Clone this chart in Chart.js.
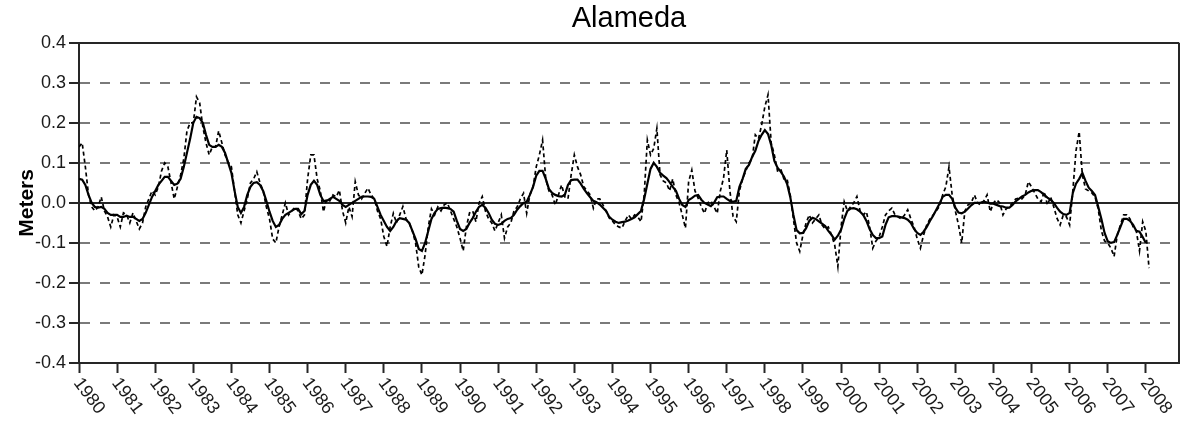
<!DOCTYPE html>
<html>
<head>
<meta charset="utf-8">
<title>Alameda</title>
<script src="https://cdn.jsdelivr.net/npm/chart.js@4.4.0/dist/chart.umd.min.js"></script>
<style>
    html, body { margin: 0; padding: 0; background: #ffffff; }
    .chart-box { position: relative; width: 1181px; height: 421px; }
</style>
</head>
<body>
<div class="chart-box">
    <canvas id="seaLevelChart"></canvas>
</div>
<script>
// ===== ALAMEDA SEA LEVEL ANOMALY =====

const startYear = 1980;

// year ticks along the bottom axis
const yearTicks = [1980, 1981, 1982, 1983, 1984, 1985, 1986, 1987, 1988, 1989,
    1990, 1991, 1992, 1993, 1994, 1995, 1996, 1997, 1998, 1999,
    2000, 2001, 2002, 2003, 2004, 2005, 2006, 2007, 2008];

// meter ticks on the left axis
const meterTicks = [-0.4, -0.3, -0.2, -0.1, 0.0, 0.1, 0.2, 0.3, 0.4];

// monthly anomaly (dashed), Jan 1980 onwards, one row per year
const monthlyMeters = [
    0.14, 0.15, 0.09, 0.02, -0.01, -0.02, -0.01, 0.015, -0.02, -0.035, -0.06, -0.03,
    -0.035, -0.06, -0.025, -0.03, -0.05, -0.025, -0.045, -0.065, -0.05, -0.01, 0.01, 0.03,
    0.02, 0.04, 0.08, 0.10, 0.09, 0.05, 0.01, 0.04, 0.07, 0.11, 0.18, 0.20,
    0.20, 0.265, 0.25, 0.19, 0.15, 0.12, 0.14, 0.14, 0.18, 0.15, 0.12, 0.10,
    0.09, 0.03, -0.03, -0.05, -0.02, 0.01, 0.05, 0.06, 0.078, 0.05, 0.03, -0.01,
    -0.04, -0.09, -0.10, -0.06, -0.03, 0.0, -0.03, -0.02, -0.01, -0.02, -0.04, -0.03,
    0.06, 0.12, 0.12, 0.06, 0.03, -0.022, 0.01, 0.005, 0.02, 0.015, 0.032, -0.02,
    -0.05, -0.01, -0.034, 0.053, 0.02, 0.01, 0.024, 0.037, 0.02, 0.01, -0.02, -0.04,
    -0.084, -0.109, -0.06, -0.026, -0.05, -0.03, -0.009, -0.04, -0.05, -0.07, -0.10, -0.16,
    -0.18, -0.13, -0.06, -0.015, -0.03, -0.01, -0.02, -0.005, 0.0, -0.02, -0.04, -0.06,
    -0.088, -0.12, -0.06, -0.025, -0.02, -0.047, 0.0, 0.016, -0.02, -0.04, -0.05, -0.07,
    -0.05, -0.03, -0.088, -0.06, -0.05, -0.02, -0.01, 0.01, 0.024, -0.026, 0.02, 0.04,
    0.09, 0.12, 0.157, 0.06, 0.03, 0.02, -0.005, 0.02, 0.045, 0.015, 0.01, 0.07,
    0.12, 0.09, 0.07, 0.04, 0.03, 0.02, -0.013, 0.01, 0.01, -0.005, -0.02, -0.038,
    -0.045, -0.055, -0.06, -0.063, -0.045, -0.03, -0.04, -0.03, -0.035, -0.047, 0.02, 0.157,
    0.12, 0.136, 0.186, 0.07, 0.055, 0.05, 0.03, 0.06, 0.02, 0.0, -0.03, -0.063,
    0.053, 0.082, 0.03, 0.012, -0.01, -0.026, 0.0, 0.005, -0.01, -0.026, 0.03, 0.062,
    0.132, 0.03, -0.034, -0.047, 0.03, 0.06, 0.08, 0.10, 0.11, 0.17, 0.16, 0.195,
    0.24, 0.27, 0.15, 0.12, 0.08, 0.085, 0.06, 0.06, 0.02, -0.04, -0.10, -0.121,
    -0.08, -0.05, -0.03, -0.05, -0.04, -0.03, -0.055, -0.065, -0.06, -0.08, -0.105, -0.159,
    -0.06, 0.003, -0.02, -0.01, 0.0, 0.016, -0.02, -0.03, -0.022, -0.06, -0.113, -0.095,
    -0.085, -0.06, -0.03, -0.02, -0.013, -0.03, -0.035, -0.04, -0.03, -0.017, -0.04, -0.06,
    -0.09, -0.113, -0.08, -0.055, -0.04, -0.03, -0.02, -0.009, 0.02, 0.04, 0.09, 0.02,
    -0.02, -0.055, -0.10, -0.02, -0.005, 0.0, 0.02, 0.0, -0.005, 0.005, 0.02, -0.022,
    0.0, 0.008, 0.0, -0.03, -0.015, -0.01, 0.0, 0.01, 0.012, 0.01, 0.02, 0.053,
    0.04, 0.025, 0.01, 0.003, 0.028, -0.005, 0.015, -0.01, -0.038, -0.055, -0.03, -0.035,
    -0.055, 0.03, 0.13, 0.178, 0.07, 0.035, 0.03, 0.025, 0.015, -0.015, -0.07, -0.095,
    -0.10, -0.113, -0.134, -0.08, -0.055, -0.03, -0.03, -0.04, -0.06, -0.07, -0.12, -0.047,
    -0.071, -0.163
];

// smoothed anomaly (solid), Jan 1980 onwards
const smoothedMeters = [
    0.06, 0.058, 0.045, 0.02, 0.0, -0.01, -0.012, -0.01, -0.015, -0.025, -0.03, -0.03,
    -0.03, -0.035, -0.035, -0.032, -0.035, -0.035, -0.04, -0.045, -0.04, -0.025, -0.005, 0.015,
    0.03, 0.045, 0.055, 0.065, 0.065, 0.055, 0.045, 0.048, 0.06, 0.09, 0.125, 0.16,
    0.2, 0.215, 0.212, 0.2, 0.17, 0.145, 0.14, 0.14, 0.145, 0.14, 0.125, 0.1,
    0.075, 0.03, -0.01, -0.025, -0.01, 0.02, 0.04, 0.05, 0.052, 0.045, 0.03, 0.005,
    -0.022, -0.045, -0.06, -0.055, -0.04, -0.03, -0.025, -0.02, -0.015, -0.015, -0.028, -0.02,
    0.02, 0.045, 0.055, 0.045, 0.02, 0.005, 0.005, 0.01, 0.015, 0.01, 0.005, -0.005,
    -0.01, -0.005, 0.0, 0.005, 0.01, 0.015, 0.016, 0.016, 0.015, 0.01, -0.01, -0.03,
    -0.045, -0.06, -0.07, -0.06, -0.045, -0.038, -0.04, -0.042, -0.05, -0.07, -0.09, -0.115,
    -0.12, -0.1, -0.07, -0.04, -0.025, -0.015, -0.013, -0.012, -0.013, -0.015, -0.022, -0.045,
    -0.065, -0.07, -0.065, -0.05, -0.038, -0.022, -0.01, -0.005, -0.012, -0.025, -0.042, -0.052,
    -0.055, -0.052, -0.045, -0.04, -0.038, -0.03, -0.017, -0.008, 0.0, 0.003, 0.02, 0.04,
    0.068, 0.08, 0.08, 0.06, 0.035, 0.025, 0.02, 0.017, 0.016, 0.02, 0.045, 0.057,
    0.058, 0.058, 0.048, 0.035, 0.024, 0.014, 0.005, 0.002, -0.004, -0.012, -0.02, -0.035,
    -0.042, -0.047, -0.05, -0.048, -0.047, -0.044, -0.04, -0.036, -0.028, -0.02, 0.01, 0.048,
    0.085, 0.1, 0.09, 0.075, 0.068, 0.062, 0.052, 0.04, 0.03, 0.01, -0.005, -0.01,
    0.007, 0.012, 0.018, 0.02, 0.008, 0.0, -0.004, -0.008, 0.0, 0.014, 0.016, 0.016,
    0.01, 0.005, 0.003, 0.005, 0.04, 0.06, 0.085, 0.095, 0.115, 0.13, 0.155, 0.17,
    0.182, 0.172, 0.145, 0.105, 0.088, 0.078, 0.066, 0.048, 0.015, -0.03, -0.068, -0.076,
    -0.075, -0.063, -0.045, -0.037, -0.04, -0.046, -0.052, -0.058, -0.07, -0.08, -0.092, -0.082,
    -0.067, -0.04, -0.02, -0.014, -0.013, -0.016, -0.022, -0.03, -0.045, -0.065, -0.08, -0.088,
    -0.088, -0.084, -0.055, -0.036, -0.033, -0.033, -0.034, -0.036, -0.038, -0.042, -0.05, -0.065,
    -0.075, -0.08, -0.072, -0.06, -0.045, -0.032, -0.017, -0.002, 0.015, 0.02, 0.02, 0.01,
    -0.012, -0.024, -0.026, -0.022, -0.014, -0.006, 0.0, 0.0, 0.001, 0.003, 0.001, -0.002,
    -0.002, -0.005, -0.008, -0.009, -0.012, -0.012, -0.005, 0.004, 0.01, 0.016, 0.02, 0.026,
    0.03, 0.032, 0.032, 0.027, 0.02, 0.013, 0.008, 0.0, -0.012, -0.022, -0.028, -0.03,
    -0.025, 0.025, 0.048, 0.06, 0.075, 0.055, 0.038, 0.03, 0.02, -0.01, -0.04, -0.075,
    -0.096, -0.1, -0.098, -0.08, -0.06, -0.04, -0.04, -0.045, -0.055, -0.07, -0.072, -0.085,
    -0.1
];

const AXIS_COLOR = '#262626';
const GRID_COLOR = '#7a7a7a';
const FONT_FAMILY = "'Liberation Sans', Arial, sans-serif";

// turn a monthly list into {x: decimal year, y} points
function toPoints(values) {
    return values.map((v, i) => ({ x: startYear + i / 12, y: v }));
}

function isSolidLine(value) {
    return Math.abs(value) < 1e-9 || Math.abs(Math.abs(value) - 0.4) < 1e-9;
}

// slanted year labels, drawn under the tick marks
const slantedYears = {
    id: 'slantedYears',
    afterDraw(chart) {
        const ctx = chart.ctx;
        const xScale = chart.scales.x;
        const top = xScale.top + 12;
        ctx.save();
        ctx.font = '18px ' + FONT_FAMILY;
        ctx.fillStyle = '#1a1a1a';
        ctx.textAlign = 'left';
        ctx.textBaseline = 'middle';
        yearTicks.forEach(year => {
            const x = xScale.getPixelForValue(year);
            ctx.save();
            ctx.translate(x - 2, top + 5);
            ctx.rotate(53 * Math.PI / 180);
            ctx.fillText(String(year), 0, 0);
            ctx.restore();
        });
        ctx.restore();
    }
};

// right-hand edge of the plot frame
const plotFrame = {
    id: 'plotFrame',
    afterDatasetsDraw(chart) {
        const { ctx, chartArea } = chart;
        ctx.save();
        ctx.strokeStyle = AXIS_COLOR;
        ctx.lineWidth = 2;
        ctx.beginPath();
        ctx.moveTo(chartArea.right, chartArea.top);
        ctx.lineTo(chartArea.right, chartArea.bottom);
        ctx.stroke();
        ctx.restore();
    }
};

document.addEventListener('DOMContentLoaded', function() {
    const canvas = document.getElementById('seaLevelChart');

    new Chart(canvas, {
        type: 'line',
        data: {
            datasets: [
                {
                    label: 'Monthly',
                    data: toPoints(monthlyMeters),
                    borderColor: '#000000',
                    borderWidth: 1.7,
                    borderDash: [4, 3],
                    pointRadius: 0,
                    tension: 0
                },
                {
                    label: 'Smoothed',
                    data: toPoints(smoothedMeters),
                    borderColor: '#000000',
                    borderWidth: 2.2,
                    pointRadius: 0,
                    tension: 0
                }
            ]
        },
        options: {
            responsive: true,
            maintainAspectRatio: false,
            animation: false,
            layout: { padding: { left: 0, right: 2, top: 0, bottom: 0 } },
            plugins: {
                legend: { display: false },
                tooltip: { enabled: false },
                title: {
                    display: true,
                    text: 'Alameda',
                    fullSize: false,
                    color: '#000000',
                    font: { family: FONT_FAMILY, size: 29, weight: 'normal', lineHeight: 1.2 },
                    padding: { top: 2, bottom: 6 }
                }
            },
            scales: {
                x: {
                    type: 'linear',
                    min: 1980,
                    max: 2008.87,
                    afterBuildTicks: scale => {
                        scale.ticks = yearTicks.map(v => ({ value: v }));
                    },
                    afterFit: scale => { scale.height = 58; },
                    ticks: { display: false },
                    grid: {
                        drawOnChartArea: false,
                        drawTicks: true,
                        tickLength: 10,
                        tickColor: AXIS_COLOR,
                        tickWidth: 2
                    },
                    border: { color: AXIS_COLOR, width: 2 }
                },
                y: {
                    min: -0.4,
                    max: 0.4,
                    afterBuildTicks: scale => {
                        scale.ticks = meterTicks.map(v => ({ value: v }));
                    },
                    afterFit: scale => { scale.width = 79; },
                    ticks: {
                        color: '#1a1a1a',
                        padding: 3,
                        font: { family: FONT_FAMILY, size: 18 },
                        callback: value => value.toFixed(1)
                    },
                    grid: {
                        color: ctx => (ctx.tick && isSolidLine(ctx.tick.value)) ? AXIS_COLOR : GRID_COLOR,
                        lineWidth: 2,
                        tickLength: 10,
                        tickColor: AXIS_COLOR,
                        tickWidth: 2
                    },
                    border: {
                        color: AXIS_COLOR,
                        width: 2,
                        dash: ctx => (ctx.tick && !isSolidLine(ctx.tick.value)) ? [10, 10] : []
                    },
                    title: {
                        display: true,
                        text: 'Meters',
                        color: '#000000',
                        font: { family: FONT_FAMILY, size: 21, weight: 'bold' },
                        padding: { top: 15, bottom: 0 }
                    }
                }
            }
        },
        plugins: [plotFrame, slantedYears]
    });
});
</script>
</body>
</html>
